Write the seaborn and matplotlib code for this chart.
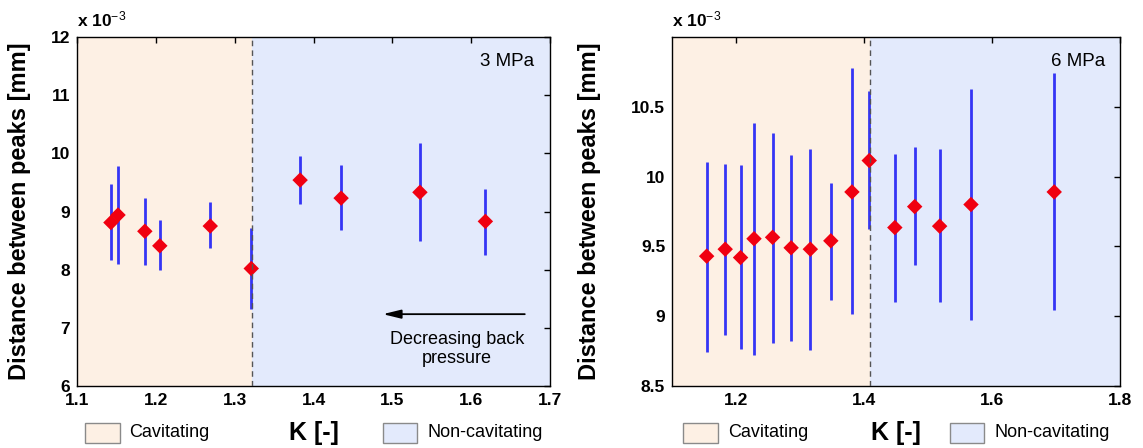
import numpy as np
import pandas as pd
import matplotlib
matplotlib.use("Agg")
import matplotlib.pyplot as plt
from matplotlib.patches import Rectangle
import seaborn as sns

# ---------------- data (values in units of 1e-3 mm) ----------------
k_3mpa = [1.143, 1.152, 1.186, 1.205, 1.269, 1.321, 1.383, 1.435, 1.535, 1.618]
d_3mpa = [8.81, 8.94, 8.66, 8.41, 8.75, 8.02, 9.54, 9.23, 9.33, 8.83]
hi_3mpa = [9.47, 9.78, 9.23, 8.85, 9.16, 8.71, 9.96, 9.80, 10.18, 9.38]
lo_3mpa = [8.16, 8.09, 8.08, 7.99, 8.38, 7.32, 9.13, 8.68, 8.49, 8.26]
boundary_3mpa = 1.3216

k_6mpa = [1.154, 1.183, 1.207, 1.228, 1.257, 1.286, 1.316, 1.348, 1.381, 1.408,
          1.448, 1.479, 1.518, 1.567, 1.697]
d_6mpa = [9.43, 9.48, 9.42, 9.555, 9.565, 9.49, 9.48, 9.54, 9.89, 10.115,
          9.635, 9.785, 9.645, 9.80, 9.89]
hi_6mpa = [10.105, 10.09, 10.085, 10.385, 10.31, 10.155, 10.20, 9.955, 10.78, 10.615,
           10.165, 10.21, 10.195, 10.625, 10.74]
lo_6mpa = [8.745, 8.865, 8.765, 8.725, 8.81, 8.825, 8.76, 9.115, 9.015, 9.625,
           9.105, 9.37, 9.10, 8.975, 9.045]
boundary_6mpa = 1.4095

xticks_3 = [1.1, 1.2, 1.3, 1.4, 1.5, 1.6, 1.7]
yticks_3 = [6, 7, 8, 9, 10, 11, 12]
xticks_6 = [1.2, 1.4, 1.6, 1.8]
yticks_6 = [8.5, 9, 9.5, 10, 10.5]

# ---------------- style ----------------
sns.set_theme(style="white")
plt.rcParams["font.family"] = ["Liberation Sans", "DejaVu Sans"]
plt.rcParams["mathtext.fontset"] = "custom"
plt.rcParams["mathtext.rm"] = "Liberation Sans"
plt.rcParams["mathtext.it"] = "Liberation Sans"
plt.rcParams["mathtext.bf"] = "Liberation Sans:bold"
plt.rcParams["text.color"] = "black"
plt.rcParams["axes.labelcolor"] = "black"
plt.rcParams["xtick.color"] = "black"
plt.rcParams["ytick.color"] = "black"

CAV = "#FDF0E4"
NONCAV = "#E3EAFC"
BLUE = "#3535F5"
RED = "#F00010"

fig = plt.figure(figsize=(11.43, 4.48), dpi=100)
ax1 = fig.add_axes([0.0674, 0.1384, 0.4138, 0.779])
ax2 = fig.add_axes([0.588, 0.1384, 0.392, 0.779])


def panel(ax, K, D, lo, hi, boundary, xlim, ylim, xticks, yticks, label,
          leg_cav, leg_non, ylab_x):
    ax.axvspan(xlim[0], boundary, color=CAV, zorder=0, lw=0)
    ax.axvspan(boundary, xlim[1], color=NONCAV, zorder=0, lw=0)
    ax.vlines(K, lo, hi, color=BLUE, lw=2, zorder=2)
    df = pd.DataFrame({"K": K, "D": D})
    sns.scatterplot(data=df, x="K", y="D", marker="D", color=RED, s=62,
                    edgecolor="none", ax=ax, zorder=3)
    ax.axvline(boundary, color="#555555", ls=(0, (4, 3)), lw=1, zorder=4)
    ax.set_xlim(*xlim)
    ax.set_ylim(*ylim)
    ax.set_xticks(xticks)
    ax.set_yticks(yticks)
    ax.set_xticklabels([f"{v:g}" for v in xticks], fontweight="bold", fontsize=12.5)
    ax.set_yticklabels([f"{v:g}" for v in yticks], fontweight="bold", fontsize=12.5)
    ax.tick_params(direction="in", top=True, right=True, length=4, width=1,
                   color="black", pad=5, labelcolor="black")
    for sp in ax.spines.values():
        sp.set_color("black")
        sp.set_linewidth(1)
        sp.set_visible(True)
    ax.set_xlabel("K [-]", fontweight="bold", fontsize=18)
    ax.set_ylabel("Distance between peaks [mm]", fontweight="bold", fontsize=17)
    ax.xaxis.set_label_coords(0.5, -0.1)
    ax.yaxis.set_label_coords(ylab_x, 0.5)
    ax.text(0.0, 1.03, r"x 10$^{-3}$", transform=ax.transAxes, ha="left",
            va="baseline", fontsize=12.5, fontweight="bold")
    ax.text(0.966, 0.93, label, transform=ax.transAxes, ha="right", va="center",
            fontsize=13.5)
    # bottom region legend
    y0, h = -0.163, 0.057
    for (px0, pw, tx, txt, col) in [(leg_cav[0], leg_cav[1], leg_cav[2], "Cavitating", CAV),
                                    (leg_non[0], leg_non[1], leg_non[2], "Non-cavitating", NONCAV)]:
        ax.add_patch(Rectangle((px0, y0), pw, h, transform=ax.transAxes,
                               facecolor=col, edgecolor="#8a8a8a", lw=1,
                               clip_on=False))
        ax.text(tx, y0 + h / 2, txt, transform=ax.transAxes, ha="left",
                va="center", fontsize=13)


panel(ax1, k_3mpa, d_3mpa, lo_3mpa, hi_3mpa, boundary_3mpa, (1.1, 1.7), (6, 12),
      xticks_3, yticks_3, "3 MPa", (0.017, 0.074, 0.11), (0.647, 0.072, 0.74), -0.097)
panel(ax2, k_6mpa, d_6mpa, lo_6mpa, hi_6mpa, boundary_6mpa, (1.1, 1.8), (8.5, 11.0),
      xticks_6, yticks_6, "6 MPa", (0.025, 0.078, 0.125), (0.62, 0.076, 0.72), -0.158)

# arrow annotation on left panel
ax1.annotate("", xy=(1.488, 7.235), xytext=(1.668, 7.235),
             arrowprops=dict(arrowstyle="-|>,head_length=0.9,head_width=0.22",
                             color="black", lw=1.3, shrinkA=0, shrinkB=0))
ax1.text(1.582, 6.64, "Decreasing back\npressure", ha="center", va="center",
         fontsize=13, linespacing=1.15)

fig.savefig("out.png", dpi=100)
